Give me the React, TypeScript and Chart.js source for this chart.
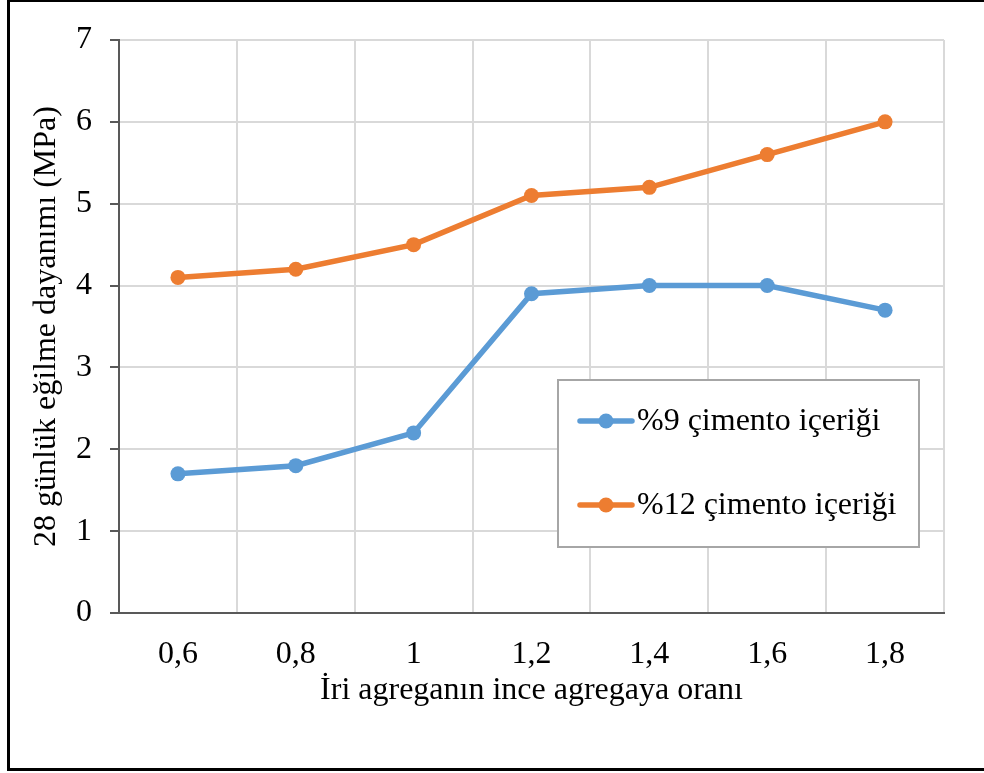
import React, { useEffect, useRef } from "react";
import { Chart, registerables } from "chart.js";

Chart.register(...registerables);

// Coarse-to-fine aggregate ratio on the x axis
const ratios = ["0,6", "0,8", "1", "1,2", "1,4", "1,6", "1,8"];
// 28-day flexural strength (MPa) for each cement content
const cement9 = [1.7, 1.8, 2.2, 3.9, 4.0, 4.0, 3.7];
const cement12 = [4.1, 4.2, 4.5, 5.1, 5.2, 5.6, 6.0];
const seriesNames = ["%9 çimento içeriği", "%12 çimento içeriği"];
const yTicks = [0, 1, 2, 3, 4, 5, 6, 7];

const BLUE = "#5B9BD5";
const ORANGE = "#ED7D31";
const GRID = "#D9D9D9";
const AXIS = "#595959";
const FONT = "'Liberation Serif', 'Times New Roman', serif";
const FS = 32;

// Legend drawn as a framed box inside the plot area
const boxLegend = {
  id: "boxLegend",
  afterDraw(chart: any) {
    const { ctx } = chart;
    const x0 = 558, y0 = 380, x1 = 919, y1 = 547;
    ctx.save();
    ctx.fillStyle = "#ffffff";
    ctx.fillRect(x0, y0, x1 - x0, y1 - y0);
    ctx.strokeStyle = "#A6A6A6";
    ctx.lineWidth = 2;
    ctx.strokeRect(x0, y0, x1 - x0, y1 - y0);
    const rows = [421, 505];
    chart.data.datasets.forEach((ds: any, i: number) => {
      const y = rows[i];
      ctx.strokeStyle = ds.borderColor;
      ctx.lineWidth = 5.5;
      ctx.lineCap = "round";
      ctx.beginPath();
      ctx.moveTo(580, y);
      ctx.lineTo(632, y);
      ctx.stroke();
      ctx.fillStyle = ds.borderColor;
      ctx.beginPath();
      ctx.arc(606, y, 7.5, 0, Math.PI * 2);
      ctx.fill();
      ctx.fillStyle = "#000000";
      ctx.font = `${FS}px ${FONT}`;
      ctx.textBaseline = "middle";
      ctx.textAlign = "left";
      ctx.fillText(ds.label, 637, y + 1);
    });
    ctx.restore();
  },
};

export default function App() {
  const ref = useRef<HTMLCanvasElement | null>(null);

  useEffect(() => {
    if (!ref.current) return;
    const chart = new Chart(ref.current, {
      type: "line",
      data: {
        labels: ratios,
        datasets: [
          {
            label: seriesNames[0],
            data: cement9,
            borderColor: BLUE,
            backgroundColor: BLUE,
            pointBackgroundColor: BLUE,
            borderWidth: 5.5,
            pointRadius: 7.5,
            pointBorderWidth: 0,
            tension: 0,
          },
          {
            label: seriesNames[1],
            data: cement12,
            borderColor: ORANGE,
            backgroundColor: ORANGE,
            pointBackgroundColor: ORANGE,
            borderWidth: 5.5,
            pointRadius: 7.5,
            pointBorderWidth: 0,
            tension: 0,
          },
        ],
      },
      options: {
        animation: false,
        responsive: false,
        maintainAspectRatio: false,
        layout: { padding: { left: 0, top: 40, right: 40, bottom: 0 } },
        plugins: {
          legend: { display: false },
          tooltip: { enabled: false },
        },
        scales: {
          x: {
            type: "category",
            offset: true,
            grid: {
              offset: true,
              color: GRID,
              lineWidth: 2,
              drawTicks: false,
            },
            border: { display: true, color: AXIS, width: 2 },
            ticks: {
              color: "#000000",
              font: { family: FONT, size: FS },
              padding: 22,
              maxRotation: 0,
            },
            title: {
              display: true,
              text: "İri agreganın ince agregaya oranı",
              color: "#000000",
              font: { family: FONT, size: FS },
              padding: { top: 0, bottom: 63 },
            },
            afterFit(scale: any) {
              scale.height = 160;
            },
          },
          y: {
            min: 0,
            max: 7,
            afterBuildTicks(scale: any) {
              scale.ticks = yTicks.map((v) => ({ value: v }));
            },
            grid: {
              color: (c: any) => (c.tick && c.tick.value === 0 ? AXIS : GRID),
              lineWidth: 2,
              tickLength: 9,
              tickColor: AXIS,
            },
            border: { display: true, color: AXIS, width: 2 },
            ticks: {
              color: "#000000",
              font: { family: FONT, size: FS },
              padding: 18,
            },
            title: {
              display: true,
              text: "28 günlük eğilme dayanımı (MPa)",
              color: "#000000",
              font: { family: FONT, size: FS },
              padding: { top: 27, bottom: 0 },
            },
            afterFit(scale: any) {
              scale.width = 119;
            },
          },
        },
      },
      plugins: [boxLegend],
    });
    return () => chart.destroy();
  }, []);

  return (
    <div
      style={{
        position: "fixed",
        left: 0,
        top: 0,
        width: 984,
        height: 773,
        overflow: "hidden",
        background: "#ffffff",
      }}
    >
      <canvas
        ref={ref}
        width={984}
        height={773}
        style={{ position: "absolute", left: 0, top: 0, width: 984, height: 773 }}
      />
      <div
        style={{
          position: "absolute",
          left: 7,
          top: -1,
          width: 1000,
          height: 772,
          boxSizing: "border-box",
          border: "3px solid #000000",
          pointerEvents: "none",
        }}
      />
    </div>
  );
}
